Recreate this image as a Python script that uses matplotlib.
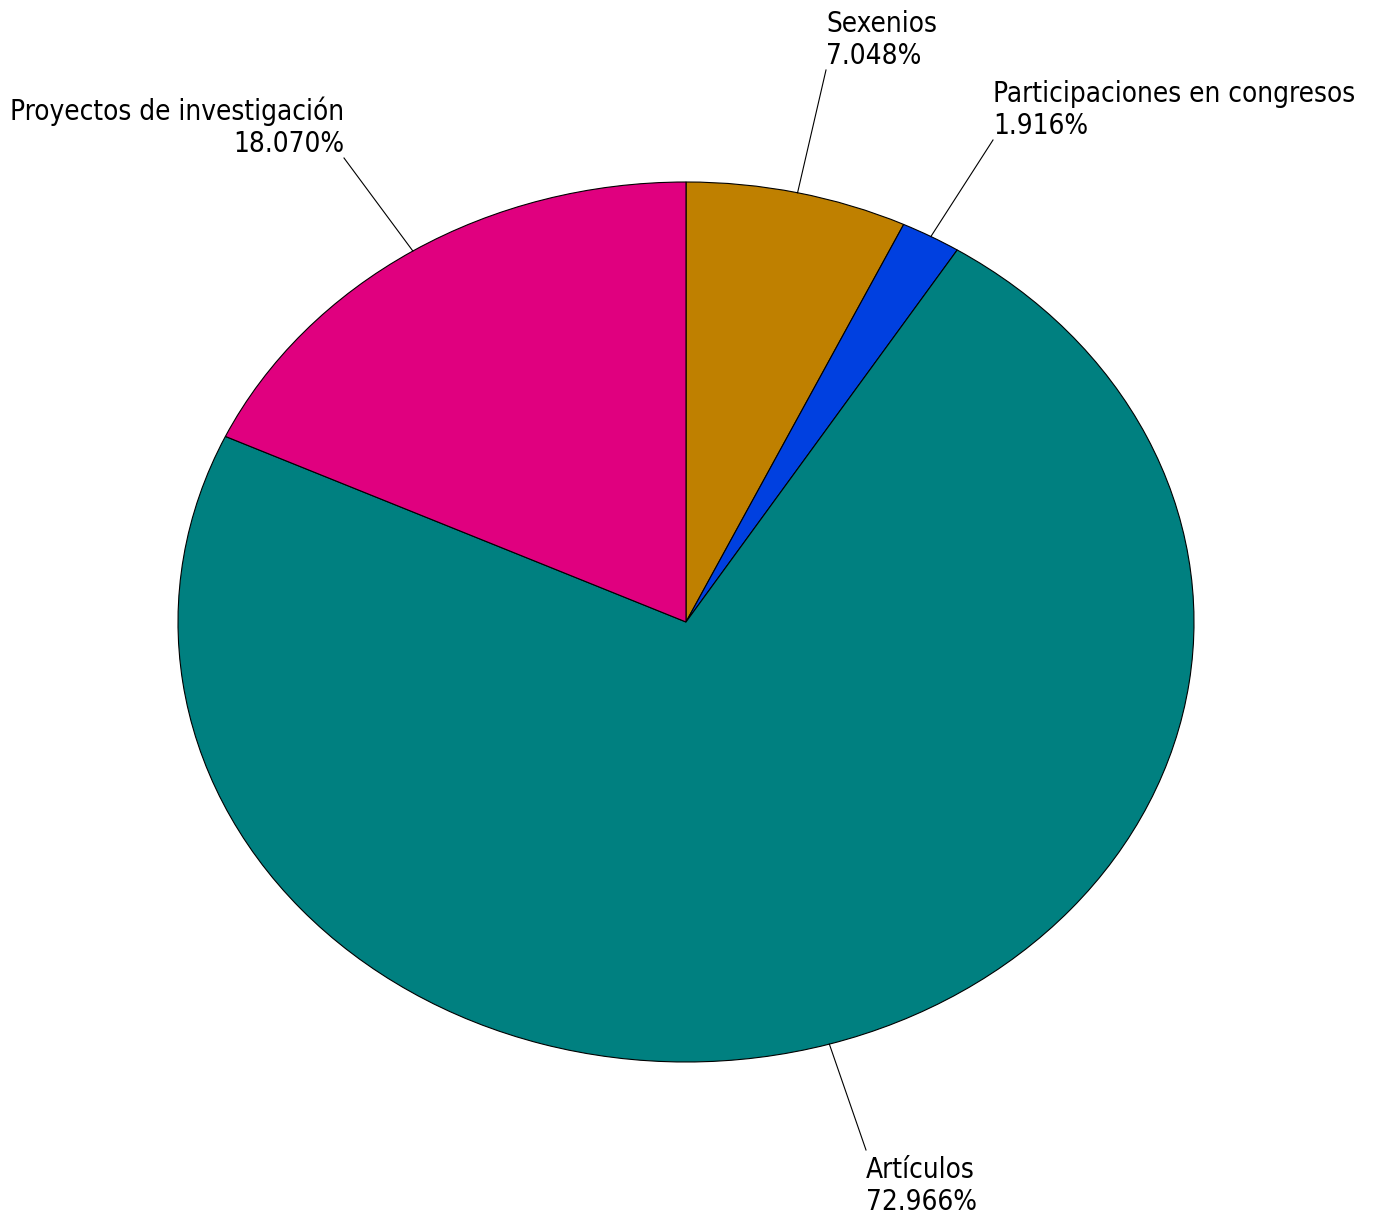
import numpy as np
import matplotlib
matplotlib.use("Agg")
import matplotlib.pyplot as plt

labels = ["Sexenios", "Participaciones en congresos", "Artículos", "Proyectos de investigación"]
shares = [7.048, 1.916, 72.966, 18.070]
colors = ["#bf8000", "#0040e0", "#008080", "#e0007f"]

plt.rcParams["font.family"] = ["DejaVu Sans"]

W, H = 1381, 1224
fig = plt.figure(figsize=(W / 100, H / 100), dpi=100)
ax = fig.add_axes([0, 0, 1, 1])

# pie centre (686, 622) px, radii 508 x 440 px -> stretched ellipse
cx, cy, rx, ry = 686, 622, 508, 440
wedges, _ = ax.pie(shares, colors=colors, startangle=90, counterclock=False,
                   wedgeprops=dict(edgecolor="black", linewidth=0.8))
ax.set_aspect("auto")
ax.set_xlim(-cx / rx, (W - cx) / rx)
ax.set_ylim((cy - H) / ry, cy / ry)
ax.axis("off")

# label anchors in pixels (x, y from top), alignment
anchors = [(826, 70, "left", "bottom"),
           (993, 140, "left", "bottom"),
           (866, 1150, "left", "top"),
           (344, 158, "right", "bottom")]

for w, lab, val, (px, py, ha, va) in zip(wedges, labels, shares, anchors):
    mid = np.deg2rad((w.theta1 + w.theta2) / 2)
    x0, y0 = np.cos(mid), np.sin(mid)
    x1, y1 = (px - cx) / rx, (cy - py) / ry
    ax.plot([x0, x1], [y0, y1], color="black", lw=0.8)
    ty = y1 - 6 / ry if va == "top" else y1
    ax.text(x1, ty, f"{lab}\n{val:.3f}%", ha=ha, va=va, multialignment=ha,
            fontsize=20, fontstretch="condensed", linespacing=1.2)

fig.savefig("out.png", dpi=100)
